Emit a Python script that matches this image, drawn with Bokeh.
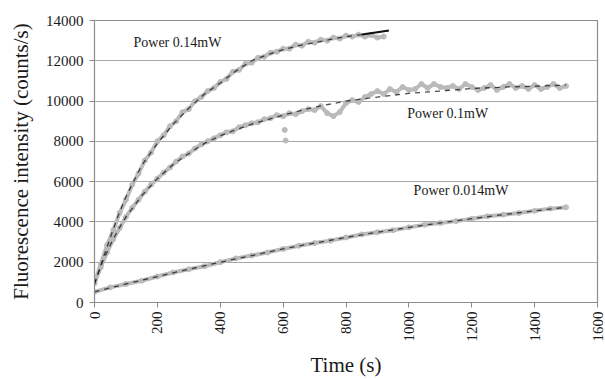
from bokeh.plotting import figure
from bokeh.models import Range1d, FixedTicker, Label
from bokeh.embed import file_html
from bokeh.resources import INLINE
import math

# ---------------- data ----------------
# Power 0.14 mW : measured points
t_14 = [0, 20, 40, 60, 80, 100, 120, 140, 160, 180, 200, 220, 240, 260, 280, 300,
        320, 340, 360, 380, 400, 420, 440, 460, 480, 500, 520, 540, 560, 580, 600,
        620, 640, 660, 680, 700, 720, 740, 760, 780, 800, 820, 840, 860, 880, 900, 920]
v_14 = [950, 1900, 2850, 3600, 4450, 5100, 5850, 6400, 7050, 7450, 8000, 8300, 8750,
        9000, 9450, 9600, 10000, 10200, 10500, 10650, 10950, 11100, 11450, 11550, 11850,
        11900, 12150, 12200, 12400, 12450, 12600, 12600, 12800, 12750, 12950, 12900,
        13050, 13000, 13150, 13100, 13250, 13200, 13300, 13200, 13280, 13150, 13200]
# Power 0.14 mW : fitted curve
tf_14 = [0, 25, 50, 75, 100, 150, 200, 250, 300, 350, 400, 450, 500, 550, 600, 650,
         700, 750, 800, 850, 900, 936]
vf_14 = [900, 2100, 3200, 4300, 5250, 6800, 7900, 8850, 9650, 10350, 10900, 11500,
         12000, 12300, 12550, 12750, 12900, 13060, 13200, 13300, 13420, 13500]

# Power 0.1 mW : measured points
t_10 = [0, 20, 40, 60, 80, 100, 120, 140, 160, 180, 200, 220, 240, 260, 280, 300, 320,
        340, 360, 380, 400, 420, 440, 460, 480, 500, 520, 540, 560, 580, 600, 620, 640,
        660, 680, 700, 720, 740, 760, 780, 800, 820, 840, 860, 880, 900, 920, 940, 960,
        980, 1000, 1020, 1040, 1060, 1080, 1100, 1120, 1140, 1160, 1180, 1200, 1220,
        1240, 1260, 1280, 1300, 1320, 1340, 1360, 1380, 1400, 1420, 1440, 1460, 1480, 1500]
v_10 = [1000, 1750, 2500, 3150, 3700, 4250, 4700, 5100, 5500, 5850, 6150, 6450, 6700,
        7000, 7250, 7400, 7650, 7850, 8000, 8150, 8300, 8450, 8500, 8700, 8800, 8900,
        8950, 9100, 9150, 9300, 9250, 9400, 9350, 9500, 9600, 9550, 9750, 9400, 9250,
        9450, 9900, 10050, 9950, 10200, 10350, 10500, 10350, 10600, 10450, 10700,
        10550, 10600, 10850, 10650, 10850, 10700, 10650, 10750, 10600, 10850, 10700,
        10550, 10650, 10800, 10550, 10700, 10850, 10650, 10750, 10600, 10800, 10600,
        10700, 10850, 10650, 10750]
t_10_out = [605, 608]
v_10_out = [8570, 8040]
# Power 0.1 mW : fitted curve
tf_10 = [0, 25, 50, 75, 100, 150, 200, 250, 300, 350, 400, 450, 500, 550, 600, 700,
         800, 900, 1000, 1100, 1200, 1300, 1400, 1500]
vf_10 = [950, 2000, 2850, 3600, 4250, 5300, 6150, 6850, 7400, 7900, 8280, 8580, 8850,
         9080, 9300, 9700, 10000, 10200, 10380, 10500, 10620, 10690, 10740, 10790]

# Power 0.014 mW : measured points
t_014 = [0, 50, 100, 150, 200, 250, 300, 350, 400, 450, 500, 550, 600, 650, 700, 750,
         800, 850, 900, 950, 1000, 1050, 1100, 1150, 1200, 1250, 1300, 1350, 1400, 1450, 1500]
v_014 = [530, 750, 920, 1080, 1290, 1490, 1650, 1800, 2000, 2190, 2330, 2480, 2660,
         2820, 2950, 3070, 3230, 3380, 3490, 3590, 3730, 3860, 3950, 4040, 4160, 4280,
         4360, 4440, 4550, 4660, 4730]
# Power 0.014 mW : fitted curve
tf_014 = [0, 100, 200, 300, 400, 500, 600, 700, 800, 900, 1000, 1100, 1200, 1300, 1400, 1500]
vf_014 = [530, 920, 1290, 1650, 2000, 2330, 2660, 2950, 3230, 3490, 3730, 3950, 4160,
          4360, 4550, 4730]

x_ticks = [0, 200, 400, 600, 800, 1000, 1200, 1400, 1600]
y_ticks = [0, 2000, 4000, 6000, 8000, 10000, 12000, 14000]

labels = ["Power 0.14mW", "Power 0.1mW", "Power 0.014mW"]
label_x = [124, 995, 1015]
label_y = [12910, 9380, 5555]

# ---------------- figure ----------------
FONT = "Liberation Serif"
p = figure(width=605, height=379, output_backend="svg", toolbar_location=None,
           x_range=Range1d(0, 1600), y_range=Range1d(0, 14000),
           min_border_left=94, min_border_right=8, min_border_top=20,
           min_border_bottom=77)
p.background_fill_color = "white"
p.border_fill_color = "white"
p.outline_line_color = "#8c8c8c"
p.outline_line_width = 1.2

p.xgrid.visible = False
p.ygrid.grid_line_color = "#a8a8a8"
p.ygrid.grid_line_width = 1.2
p.ygrid.ticker = FixedTicker(ticks=y_ticks)

for ax in (p.xaxis[0], p.yaxis[0]):
    ax.axis_line_color = "#8c8c8c"
    ax.major_tick_line_color = "#8c8c8c"
    ax.minor_tick_line_color = None
    ax.major_tick_in = 0
    ax.major_tick_out = 5
    ax.major_label_text_font = FONT
    ax.major_label_text_font_size = "15px"
    ax.major_label_text_color = "#1a1a1a"
    ax.axis_label_text_font = FONT
    ax.axis_label_text_font_style = "normal"
    ax.axis_label_text_font_size = "21px"
    ax.axis_label_text_color = "#1a1a1a"

p.xaxis.ticker = FixedTicker(ticks=x_ticks)
p.yaxis.ticker = FixedTicker(ticks=y_ticks)
p.xaxis.major_label_orientation = math.pi / 2
p.xaxis.axis_label = "Time (s)"
p.yaxis.axis_label = "Fluorescence intensity (counts/s)"
p.xaxis.major_label_standoff = 4
p.yaxis.major_label_standoff = 6
p.xaxis.axis_label_standoff = 8
p.yaxis.axis_label_standoff = 10

GRAY = "#bababa"
# measured data (grey)
for tt, vv in ((t_014, v_014), (t_10, v_10), (t_14, v_14)):
    p.line(tt, vv, line_color=GRAY, line_width=4)
    p.scatter(tt, vv, size=5, fill_color=GRAY, line_color=GRAY, alpha=0.9)
p.scatter(t_10_out, v_10_out, size=5, fill_color=GRAY, line_color=GRAY)

# fitted curves (black, broken look)
for tt, vv in ((tf_014, vf_014), (tf_10, vf_10), (tf_14, vf_14)):
    p.line(tt, vv, line_color="#111111", line_width=1.3, line_dash="5 5", alpha=0.75)
p.line(tf_14[-3:], vf_14[-3:], line_color="#111111", line_width=2)

for txt, lx, ly in zip(labels, label_x, label_y):
    p.add_layout(Label(x=lx, y=ly, text=txt, text_font=FONT, text_font_size="14px",
                       text_color="#1a1a1a", text_baseline="middle", text_align="left"))

open("out.html", "w").write(file_html(p, INLINE))
